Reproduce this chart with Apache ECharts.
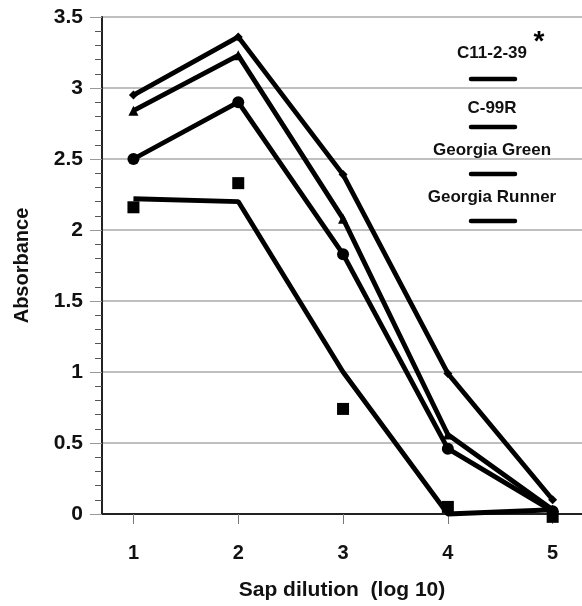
<!DOCTYPE html>
<html>
<head>
<meta charset="utf-8">
<script src="https://cdn.jsdelivr.net/npm/echarts@6/dist/echarts.min.js"></script>
<style>
  html, body { margin: 0; padding: 0; background: #fff; }
  #chart { width: 582px; height: 606px; }
</style>
</head>
<body>
<div id="chart"></div>
<script>
// sap dilution (log 10) and absorbance per line
const dilution = [1, 2, 3, 4, 5];
const c11239 = [2.95, 3.36, 2.39, 0.99, 0.10];
const c99r = [2.84, 3.23, 2.08, 0.56, 0.03];
const georgiaGreen = [2.50, 2.90, 1.83, 0.46, 0.02];
const georgiaRunnerLine = [2.22, 2.20, 1.00, 0.00, 0.03];
const georgiaRunnerPts = [2.16, 2.33, 0.74, 0.05, -0.02];
const legendNames = ['C11-2-39', 'C-99R', 'Georgia Green', 'Georgia Runner'];

const font = '"Liberation Sans", Arial, sans-serif';
const pair = arr => dilution.map((d, i) => [d, arr[i]]);

function lineSeries(name, arr, symbol, size) {
    return {
        name: name,
        type: 'line',
        data: pair(arr),
        symbol: symbol,
        symbolSize: size,
        showSymbol: symbol !== 'none',
        clip: false,
        lineStyle: {color: '#000', width: 4.8},
        itemStyle: {color: '#000', opacity: 1},
        z: 3
    };
}

// legend: name above a short thick stroke
let legendItems = [];
const legendY = [53, 108, 150, 197];
const strokeY = [79, 127, 174, 221];
legendNames.forEach((n, i) => {
    legendItems.push({
        type: 'text', x: 492, y: legendY[i],
        style: {
            text: n, font: 'bold 17px ' + font, fill: '#111',
            textAlign: 'center', textVerticalAlign: 'middle'
        }
    });
    legendItems.push({
        type: 'line',
        shape: {x1: 471, y1: strokeY[i], x2: 515, y2: strokeY[i]},
        style: {stroke: '#000', lineWidth: 4.5, lineCap: 'round'}
    });
});
legendItems.push({
    type: 'text', x: 539, y: 42,
    style: {text: '*', font: 'bold 28px ' + font, fill: '#000', textAlign: 'center', textVerticalAlign: 'middle'}
});

const chart = echarts.init(document.getElementById('chart'));
chart.setOption({
    animation: false,
    backgroundColor: '#fff',
    grid: {left: 102, right: 0, top: 17, bottom: 90},
    xAxis: {
        type: 'value',
        min: 0.7,
        max: 5.28,
        name: 'Sap dilution  (log 10)',
        nameLocation: 'middle',
        nameGap: 66,
        nameTextStyle: {fontFamily: font, fontWeight: 'bold', fontSize: 21, color: '#111'},
        axisLine: {onZero: false, lineStyle: {color: '#222', width: 2}},
        axisTick: {customValues: dilution, length: 10, lineStyle: {color: '#777'}},
        axisLabel: {
            customValues: dilution, margin: 29,
            fontFamily: font, fontWeight: 'bold', fontSize: 20, color: '#111'
        },
        splitLine: {show: false}
    },
    yAxis: {
        type: 'value',
        min: 0,
        max: 3.5,
        interval: 0.5,
        name: 'Absorbance',
        nameLocation: 'middle',
        nameGap: 70,
        nameTextStyle: {fontFamily: font, fontWeight: 'bold', fontSize: 20, color: '#111'},
        axisLine: {show: true, lineStyle: {color: '#222', width: 2}},
        axisTick: {show: true, length: 12, lineStyle: {color: '#999'}},
        minorTick: {show: true, splitNumber: 5, length: 7, lineStyle: {color: '#555'}},
        axisLabel: {margin: 19, fontFamily: font, fontWeight: 'bold', fontSize: 21, color: '#111'},
        splitLine: {show: true, lineStyle: {color: '#aaa', width: 1.5}}
    },
    series: [
        lineSeries(legendNames[0], c11239, 'diamond', 9),
        lineSeries(legendNames[1], c99r, 'triangle', 10),
        lineSeries(legendNames[2], georgiaGreen, 'circle', 12),
        lineSeries(legendNames[3], georgiaRunnerLine, 'none', 0),
        {
            name: legendNames[3] + ' points',
            type: 'scatter',
            data: pair(georgiaRunnerPts),
            symbol: 'rect',
            symbolSize: 12,
            clip: false,
            itemStyle: {color: '#000', opacity: 1},
            z: 4
        }
    ],
    graphic: legendItems
});
</script>
</body>
</html>
